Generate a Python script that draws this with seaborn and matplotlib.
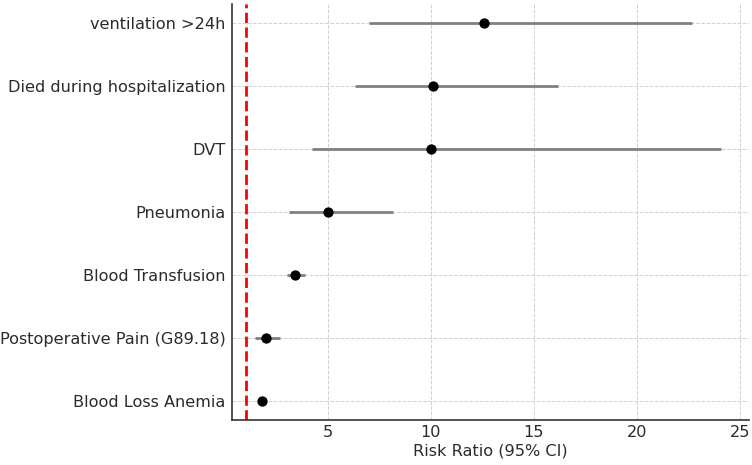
import numpy as np
import pandas as pd
import matplotlib
matplotlib.use("Agg")
import matplotlib.pyplot as plt
import seaborn as sns

# outcomes, listed top to bottom as in the figure
outcomes = ["ventilation >24h", "Died during hospitalization", "DVT", "Pneumonia",
            "Blood Transfusion", "Postoperative Pain (G89.18)", "Blood Loss Anemia"]
rr = [12.59, 10.1, 10.0, 5.0, 3.4, 1.98, 1.78]
ci_low = [6.99, 6.3, 4.2, 3.09, 3.0, 1.47, 1.62]
ci_high = [22.7, 16.17, 24.08, 8.17, 3.88, 2.67, 1.94]

df = pd.DataFrame({"outcome": outcomes, "rr": rr, "lo": ci_low, "hi": ci_high})
df["pos"] = np.arange(len(df))[::-1]

sns.set_style("white")
plt.rcParams["font.family"] = ["DejaVu Sans"]
txt = "#2b2b2b"
fs = 11.6

fig = plt.figure(figsize=(7.52, 4.65), dpi=100)
ax = fig.add_axes([0.309, 0.097, 0.687, 0.895])

ax.hlines(df["pos"], df["lo"], df["hi"], color="#808080", lw=2, zorder=2)
sns.scatterplot(data=df, x="rr", y="pos", color="black", s=55, edgecolor="black",
                linewidth=0, zorder=3, ax=ax)
ax.axvline(1, color="red", ls="--", lw=2, zorder=2)

ax.set_yticks(df["pos"])
ax.set_yticklabels(df["outcome"], fontsize=fs, color=txt)
ax.set_xticks([5, 10, 15, 20, 25])
ax.tick_params(axis="x", labelsize=fs, labelcolor=txt, direction="in", length=4)
ax.tick_params(axis="y", direction="in", length=4, pad=5)
ax.set_xlim(0.35, 25.45)
ax.set_ylim(-0.3, 6.3)
ax.set_xlabel("Risk Ratio (95% CI)", fontsize=fs, color=txt, labelpad=3)
ax.set_ylabel("")

ax.grid(True, ls="--", color="#d0d0d0", lw=0.7)
ax.set_axisbelow(True)
for s in ["top", "right"]:
    ax.spines[s].set_visible(False)
for s in ["left", "bottom"]:
    ax.spines[s].set_color("#333333")
    ax.spines[s].set_linewidth(1.2)

fig.savefig("out.png", dpi=100)
